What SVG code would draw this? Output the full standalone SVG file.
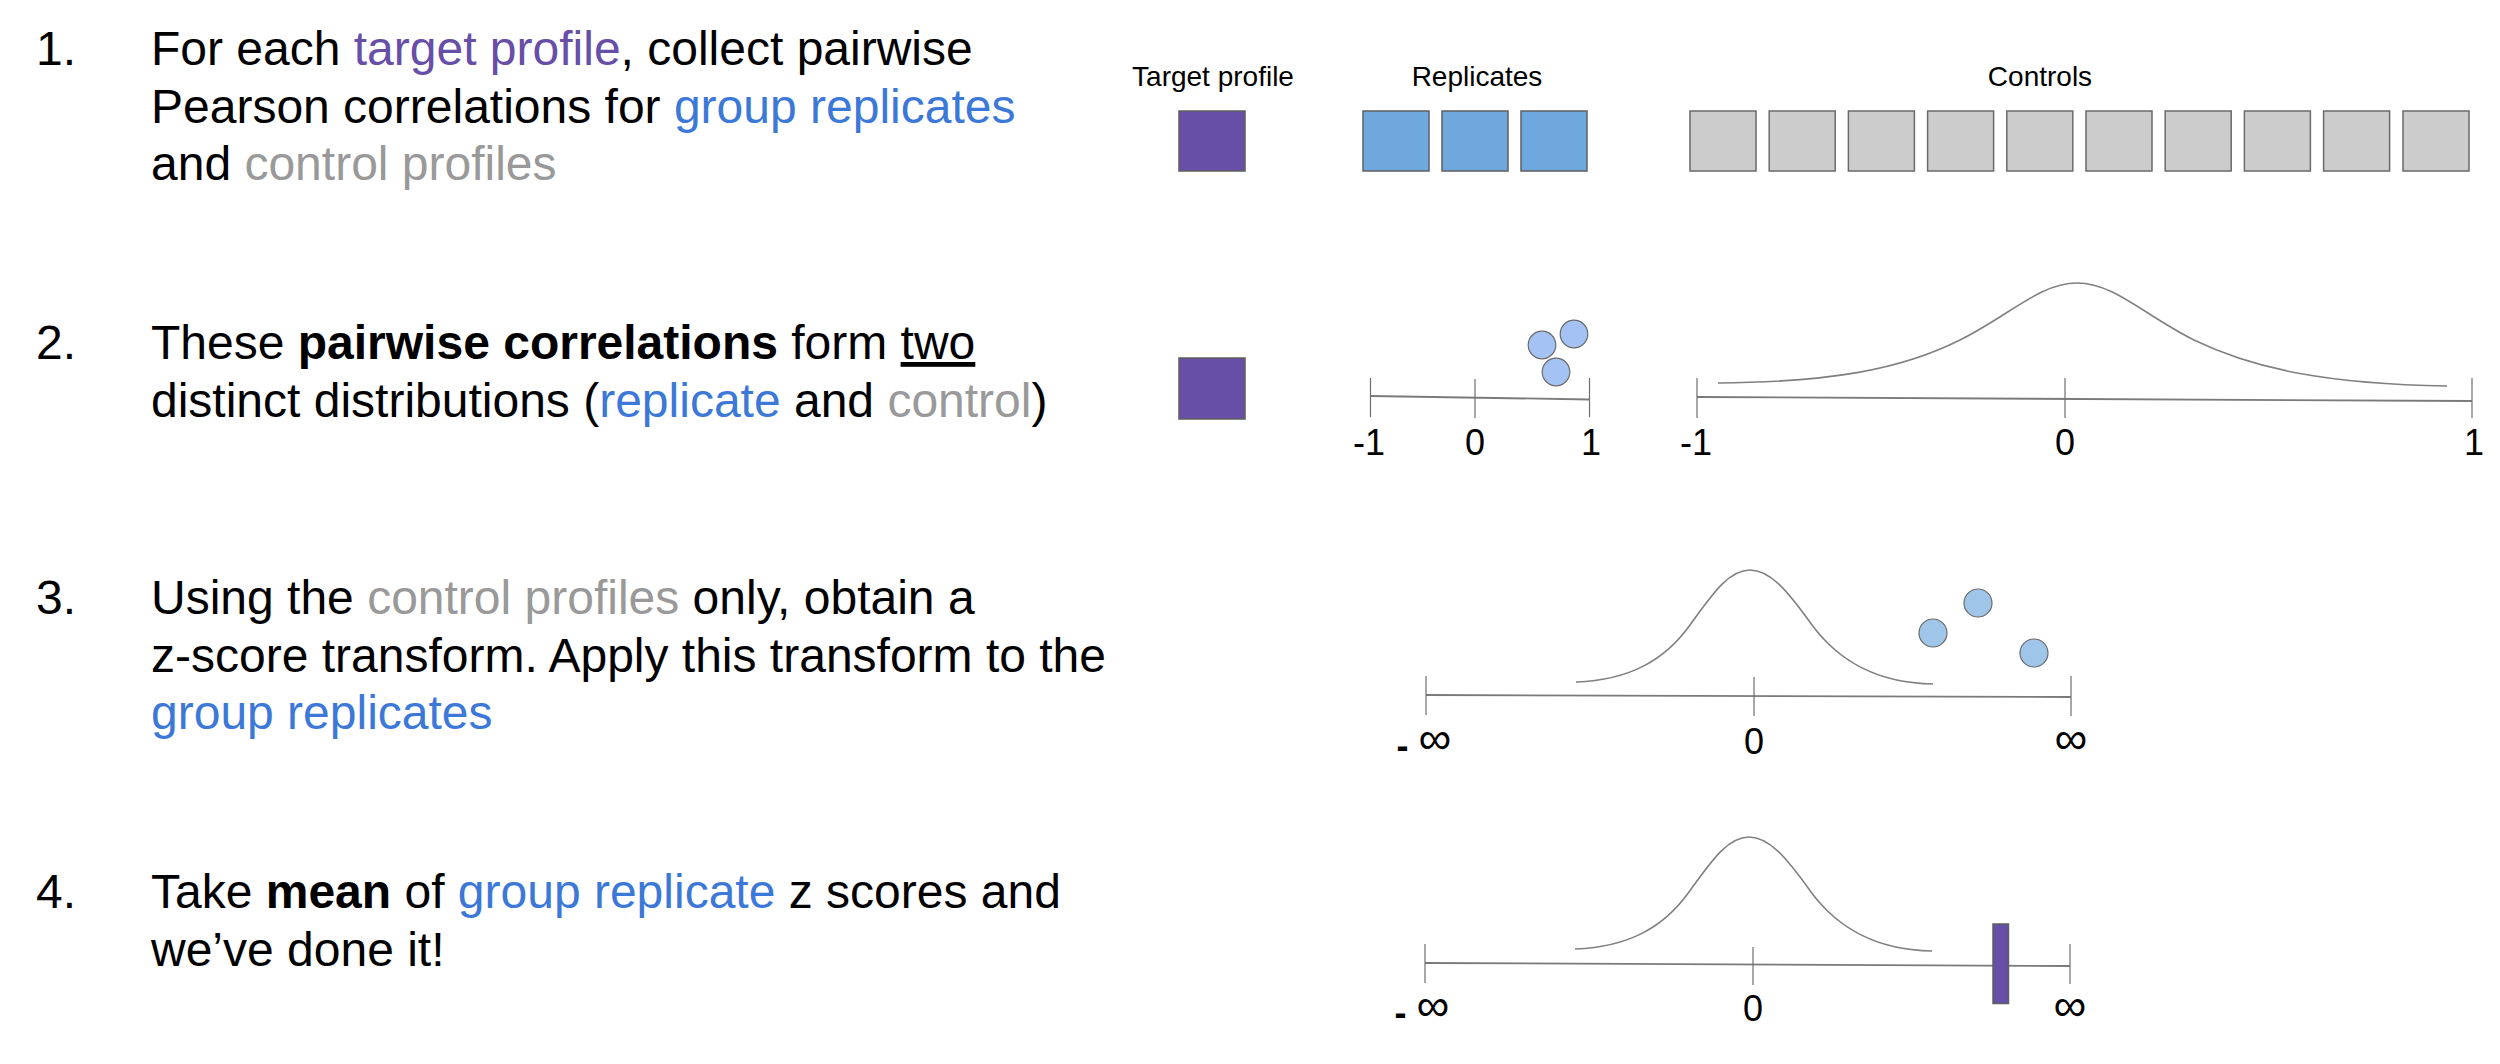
<svg xmlns="http://www.w3.org/2000/svg" width="2500" height="1064" viewBox="0 0 2500 1064">
<style>
  .t { font-family: "Liberation Sans", Arial, sans-serif; font-size: 48px; fill: #000; }
  .num { font-family: "Liberation Sans", Arial, sans-serif; font-size: 48px; fill: #000; }
  .lbl { font-family: "Liberation Sans", Arial, sans-serif; font-size: 28px; fill: #000; text-anchor: middle; }
  .ax { font-family: "Liberation Sans", Arial, sans-serif; font-size: 36px; fill: #000; }
  .inf { font-size: 46px; }
  .mid { text-anchor: middle; }
  .pur { fill: #674ea7; }
  .blu { fill: #3c78d8; }
  .gry { fill: #999999; }
  .b { font-weight: bold; }
  .sqP { fill: #674ea7; stroke: #5f5f5f; stroke-width: 1.5; }
  .sqB { fill: #6fa8dc; stroke: #5f5f5f; stroke-width: 1.5; }
  .sqG { fill: #cccccc; stroke: #6a6a6a; stroke-width: 1.5; }
  .dot2 { fill: #a4c2f4; stroke: #6a6a6a; stroke-width: 1.2; }
  .dot3 { fill: #9fc5e8; stroke: #6a6a6a; stroke-width: 1.2; }
  .tick { stroke: #6e6e6e; stroke-width: 1.2; fill: none; }
  .axis { stroke: #7a7a7a; stroke-width: 1.8; fill: none; }
  .curve { stroke: #808080; stroke-width: 1.6; fill: none; }
</style>
<defs>
  <path id="bellSmall" d="M1576,682 C1630,680 1665,660 1690,625 C1715,590 1730,570 1750,570 C1770,570 1787,590 1812,625 C1838,660 1875,683 1933,684"/>
</defs>

<rect width="2500" height="1064" fill="#ffffff"/>

<!-- Step texts -->
<g id="step1-text">
  <text class="num" x="36" y="65">1.</text>
  <text class="t" x="151" y="65">For each <tspan class="pur">target profile</tspan>, collect pairwise</text>
  <text class="t" x="151" y="122.6">Pearson correlations for <tspan class="blu">group replicates</tspan></text>
  <text class="t" x="151" y="180.2">and <tspan class="gry">control profiles</tspan></text>
</g>
<g id="step2-text">
  <text class="num" x="36" y="359">2.</text>
  <text class="t" x="151" y="359">These <tspan class="b">pairwise correlations</tspan> form <tspan text-decoration="underline">two</tspan></text>
  <text class="t" x="151" y="416.6">distinct distributions (<tspan class="blu">replicate</tspan> and <tspan class="gry">control</tspan>)</text>
</g>
<g id="step3-text">
  <text class="num" x="36" y="614">3.</text>
  <text class="t" x="151" y="614">Using the <tspan class="gry">control profiles</tspan> only, obtain a</text>
  <text class="t" x="151" y="671.6">z-score transform. Apply this transform to the</text>
  <text class="t" x="151" y="729.2"><tspan class="blu">group replicates</tspan></text>
</g>
<g id="step4-text">
  <text class="num" x="36" y="908">4.</text>
  <text class="t" x="151" y="908">Take <tspan class="b">mean</tspan> of <tspan class="blu">group replicate</tspan> z scores and</text>
  <text class="t" x="151" y="965.6">we’ve done it!</text>
</g>

<!-- Step 1 graphics -->
<g id="target-profile">
  <text class="lbl" x="1213" y="86">Target profile</text>
  <rect class="sqP" x="1179" y="111" width="66" height="60"/>
</g>
<g id="replicates">
  <text class="lbl" x="1477" y="86">Replicates</text>
  <rect class="sqB" x="1363" y="111" width="66" height="60"/>
  <rect class="sqB" x="1442" y="111" width="66" height="60"/>
  <rect class="sqB" x="1521" y="111" width="66" height="60"/>
</g>
<g id="controls">
  <text class="lbl" x="2040" y="86">Controls</text>
  <rect class="sqG" x="1690" y="111" width="66" height="60"/>
  <rect class="sqG" x="1769.2" y="111" width="66" height="60"/>
  <rect class="sqG" x="1848.4" y="111" width="66" height="60"/>
  <rect class="sqG" x="1927.6" y="111" width="66" height="60"/>
  <rect class="sqG" x="2006.8" y="111" width="66" height="60"/>
  <rect class="sqG" x="2086" y="111" width="66" height="60"/>
  <rect class="sqG" x="2165.2" y="111" width="66" height="60"/>
  <rect class="sqG" x="2244.4" y="111" width="66" height="60"/>
  <rect class="sqG" x="2323.6" y="111" width="66" height="60"/>
  <rect class="sqG" x="2403" y="111" width="66" height="60"/>
</g>

<!-- Step 2 graphics -->
<g id="target-profile-2">
  <rect class="sqP" x="1179" y="358" width="66" height="61"/>
</g>
<g id="replicate-distribution">
  <circle class="dot2" cx="1542" cy="345" r="13.8"/>
  <circle class="dot2" cx="1574" cy="334" r="13.8"/>
  <circle class="dot2" cx="1556" cy="372" r="13.8"/>
  <text class="ax mid" x="1369" y="455">-1</text>
  <text class="ax mid" x="1475" y="455">0</text>
  <text class="ax mid" x="1591" y="455">1</text>
</g>
<g id="control-distribution">
  <path class="curve" d="M1718,383 C1830,382 1900,370 1960,340 C2010,315 2040,283 2077,283 C2114,283 2144,315 2194,340 C2256,370 2330,384 2447,386"/>
  <text class="ax mid" x="1696" y="455">-1</text>
  <text class="ax mid" x="2065" y="455">0</text>
  <text class="ax mid" x="2474" y="455">1</text>
</g>

<!-- Step 3 graphics -->
<g id="zscore-transform">
  <use href="#bellSmall" class="curve"/>
  <circle class="dot3" cx="1933" cy="633" r="14"/>
  <circle class="dot3" cx="1978" cy="603" r="14"/>
  <circle class="dot3" cx="2034" cy="653" r="14"/>
  <text class="ax" x="1396.5" y="754"><tspan class="b" dy="4">-</tspan><tspan dy="-4"> </tspan><tspan class="inf">∞</tspan></text>
  <text class="ax mid" x="1754" y="754">0</text>
  <text class="ax mid inf" x="2071" y="754">∞</text>
</g>

<!-- Step 4 graphics -->
<g id="mean-zscore">
  <use href="#bellSmall" class="curve" transform="translate(-1,267)"/>
  <text class="ax" x="1394.5" y="1021"><tspan class="b" dy="4">-</tspan><tspan dy="-4"> </tspan><tspan class="inf">∞</tspan></text>
  <text class="ax mid" x="1753" y="1021">0</text>
  <text class="ax mid inf" x="2070" y="1021">∞</text>
</g>

<!-- Axes -->
<g id="connectors">
  <line class="axis" x1="1370.5" y1="396" x2="1589.5" y2="399.5"/>
  <line class="tick" x1="1370.5" y1="378" x2="1370.5" y2="417"/>
  <line class="tick" x1="1475" y1="379" x2="1475" y2="418"/>
  <line class="tick" x1="1589.5" y1="378" x2="1589.5" y2="417"/>

  <line class="axis" x1="1697" y1="397" x2="2472" y2="401"/>
  <line class="tick" x1="1697" y1="378" x2="1697" y2="418"/>
  <line class="tick" x1="2065" y1="378" x2="2065" y2="418"/>
  <line class="tick" x1="2472" y1="378" x2="2472" y2="418"/>

  <line class="axis" x1="1426" y1="695" x2="2071" y2="697"/>
  <line class="tick" x1="1426" y1="676" x2="1426" y2="715"/>
  <line class="tick" x1="1754" y1="677" x2="1754" y2="716"/>
  <line class="tick" x1="2071" y1="676" x2="2071" y2="716"/>

  <line class="axis" x1="1425" y1="963" x2="2070" y2="966"/>
  <line class="tick" x1="1425" y1="944" x2="1425" y2="983"/>
  <line class="tick" x1="1753" y1="947" x2="1753" y2="985"/>
  <line class="tick" x1="2070" y1="944" x2="2070" y2="984"/>
</g>

<g id="mean-bar">
  <rect class="sqP" x="1993" y="924" width="15.5" height="79.5"/>
</g>
</svg>
